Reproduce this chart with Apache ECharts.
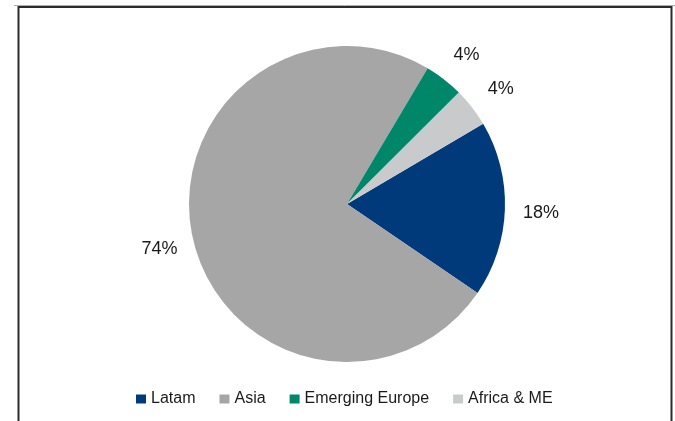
<!DOCTYPE html>
<html>
<head>
<meta charset="utf-8">
<script src="https://cdn.jsdelivr.net/npm/echarts@6/dist/echarts.min.js"></script>
<style>
  html, body { margin: 0; padding: 0; background: #ffffff; }
  #chart { width: 675px; height: 421px; }
</style>
</head>
<body>
<div id="chart"></div>
<script>
// Regional split, in percent
const regions = ['Latam', 'Asia', 'Emerging Europe', 'Africa & ME'];
const shares = [18, 74, 4, 4];
const colours = ['#003a7b', '#a6a6a6', '#00876a', '#c9cacc'];

const chart = echarts.init(document.getElementById('chart'), null, { renderer: 'canvas' });

const font = 'Liberation Sans, Arial, sans-serif';
const pieStart = 30.5;

const sliceData = regions.map((name, i) => ({
  name: name,
  value: shares[i],
  itemStyle: { color: colours[i] }
}));

// A transparent ring sharing the same angles carries the percentage labels,
// so each label sits centred on its slice's bisector just outside the pie.
const labelData = regions.map((name, i) => ({
  name: name,
  value: shares[i],
  itemStyle: { color: 'rgba(0,0,0,0)' }
}));

chart.setOption({
  animation: false,
  backgroundColor: '#ffffff',
  legend: {
    data: regions.map((name, i) => ({ name: name, itemStyle: { color: colours[i] } })),
    left: 131,
    top: 386,
    orient: 'horizontal',
    itemWidth: 10,
    itemHeight: 9,
    itemGap: 24,
    icon: 'rect',
    selectedMode: false,
    textStyle: {
      fontFamily: font,
      fontSize: 16,
      color: '#1a1a1a'
    }
  },
  graphic: [
    {
      type: 'line',
      shape: { x1: 14, y1: 5.5, x2: 675, y2: 5.5 },
      style: { stroke: '#9fb0c8', lineWidth: 1 },
      z: 10
    },
    {
      type: 'polyline',
      shape: { points: [[18.5, 430], [18.5, 7], [671.5, 7], [671.5, 430]] },
      style: { stroke: '#2b2b2b', lineWidth: 2, fill: null },
      z: 10
    }
  ],
  series: [
    {
      type: 'pie',
      center: [347, 204],
      radius: 158,
      startAngle: pieStart,
      clockwise: true,
      data: sliceData,
      itemStyle: { borderWidth: 0 },
      label: { show: false },
      labelLine: { show: false },
      emphasis: { disabled: true }
    },
    {
      type: 'pie',
      center: [348, 207],
      radius: [172, 208],
      startAngle: pieStart,
      clockwise: true,
      silent: true,
      data: labelData,
      itemStyle: { borderWidth: 0 },
      label: {
        show: true,
        position: 'inside',
        formatter: p => p.value + '%',
        fontFamily: font,
        fontSize: 18,
        color: '#1a1a1a'
      },
      labelLine: { show: false },
      emphasis: { disabled: true }
    }
  ]
});
</script>
</body>
</html>
